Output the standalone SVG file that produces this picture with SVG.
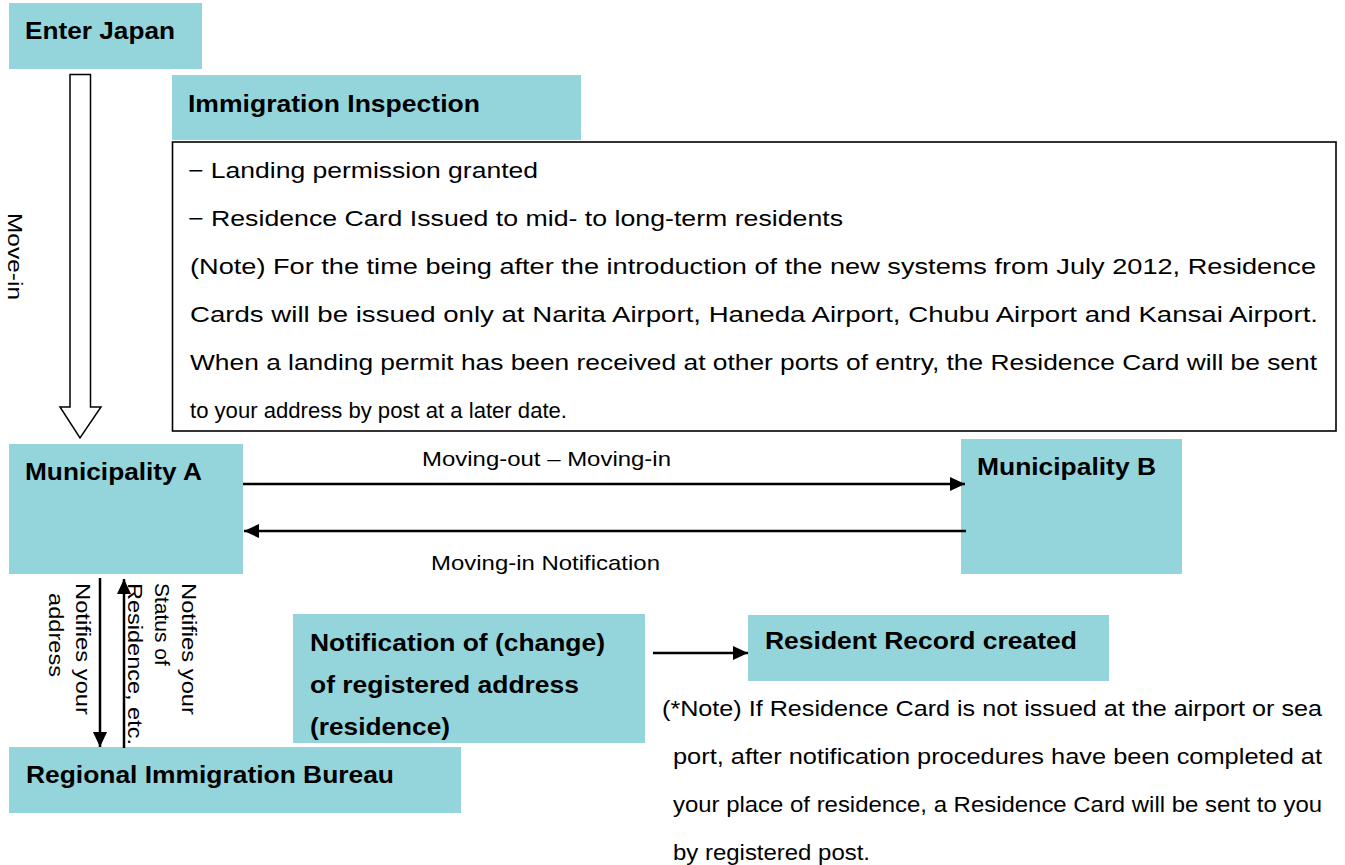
<svg xmlns="http://www.w3.org/2000/svg" width="1345" height="865" viewBox="0 0 1345 865">
<style>
.box{fill:#94D5DB;}
.h{font-family:"Liberation Sans",Arial,sans-serif;font-weight:bold;font-size:24px;fill:#000;}
.t{font-family:"Liberation Sans",Arial,sans-serif;font-size:22px;fill:#000;}
.v{font-family:"Liberation Sans",Arial,sans-serif;font-size:21px;fill:#000;}
.s{font-family:"Liberation Sans",Arial,sans-serif;font-size:21px;fill:#000;}
.n{font-family:"Liberation Sans Narrow","Liberation Sans",Arial,sans-serif;font-size:22px;fill:#000;}
.ln{stroke:#000;stroke-width:2.5;fill:none;}
</style>
<defs>
<marker id="ah" markerUnits="userSpaceOnUse" markerWidth="15" markerHeight="14" refX="15" refY="7" orient="auto">
<path d="M0,0 L15,7 L0,14 z" fill="#000"/>
</marker>
</defs>
<rect width="1345" height="865" fill="#fff"/>

<g id="enter-japan">
<rect class="box" x="9" y="3" width="193" height="66"/>
<text class="h" x="25" y="39" textLength="150" lengthAdjust="spacingAndGlyphs">Enter Japan</text>
</g>

<g id="immigration-inspection">
<rect class="box" x="172" y="75" width="409" height="65"/>
<text class="h" x="188" y="112" textLength="292" lengthAdjust="spacingAndGlyphs">Immigration Inspection</text>
</g>

<g id="inspection-details">
<rect x="172.5" y="142" width="1163.5" height="289" fill="#fff" stroke="#000" stroke-width="1.6"/>
<text class="t" x="188" y="178" textLength="350" lengthAdjust="spacingAndGlyphs">− Landing permission granted</text>
<text class="t" x="188" y="226" textLength="655" lengthAdjust="spacingAndGlyphs">− Residence Card Issued to mid- to long-term residents</text>
<text class="t" x="190" y="274" textLength="1126" lengthAdjust="spacingAndGlyphs">(Note) For the time being after the introduction of the new systems from July 2012, Residence</text>
<text class="t" x="190" y="322" textLength="1128" lengthAdjust="spacingAndGlyphs">Cards will be issued only at Narita Airport, Haneda Airport, Chubu Airport and Kansai Airport.</text>
<text class="t" x="190" y="370" textLength="1127" lengthAdjust="spacingAndGlyphs">When a landing permit has been received at other ports of entry, the Residence Card will be sent</text>
<text class="t" x="190" y="418" textLength="377" lengthAdjust="spacingAndGlyphs">to your address by post at a later date.</text>
</g>

<g id="municipality-a">
<rect class="box" x="9" y="444" width="234" height="130"/>
<text class="h" x="25" y="480" textLength="177" lengthAdjust="spacingAndGlyphs">Municipality A</text>
</g>

<g id="municipality-b">
<rect class="box" x="961" y="439" width="221" height="135"/>
<text class="h" x="977" y="475" textLength="179" lengthAdjust="spacingAndGlyphs">Municipality B</text>
</g>

<g id="notification">
<rect class="box" x="293" y="614" width="352" height="129"/>
<text class="h" x="310" y="651" textLength="295" lengthAdjust="spacingAndGlyphs">Notification of (change)</text>
<text class="h" x="310" y="693" textLength="269" lengthAdjust="spacingAndGlyphs">of registered address</text>
<text class="h" x="310" y="735" textLength="140" lengthAdjust="spacingAndGlyphs">(residence)</text>
</g>

<g id="resident-record">
<rect class="box" x="748" y="615" width="361" height="66"/>
<text class="h" x="765" y="649" textLength="312" lengthAdjust="spacingAndGlyphs">Resident Record created</text>
</g>

<g id="regional-bureau">
<rect class="box" x="9" y="747" width="452" height="66"/>
<text class="h" x="26" y="783" textLength="368" lengthAdjust="spacingAndGlyphs">Regional Immigration Bureau</text>
</g>

<g id="connectors">
<path d="M70,74.5 L90.5,74.5 L90.5,407 L101,407 L80,438 L60,407 L70,407 Z" fill="#fff" stroke="#000" stroke-width="1.5" stroke-linejoin="miter"/>
<text class="v" transform="translate(8,213) rotate(90)" textLength="87" lengthAdjust="spacingAndGlyphs">Move-in</text>

<line class="ln" x1="243" y1="484" x2="965" y2="484" marker-end="url(#ah)"/>
<text class="s" x="422" y="466" textLength="249" lengthAdjust="spacingAndGlyphs">Moving-out – Moving-in</text>
<line class="ln" x1="966" y1="531" x2="244" y2="531" marker-end="url(#ah)"/>
<text class="s" x="431" y="570" textLength="229" lengthAdjust="spacingAndGlyphs">Moving-in Notification</text>

<line class="ln" x1="100" y1="578" x2="100" y2="747" stroke-width="2" marker-end="url(#ah)"/>
<line class="ln" x1="124" y1="748" x2="124" y2="579" stroke-width="2" marker-end="url(#ah)"/>
<text class="v" transform="translate(76,583) rotate(90)" textLength="132" lengthAdjust="spacingAndGlyphs">Notifies your</text>
<text class="v" transform="translate(49,593) rotate(90)" textLength="84" lengthAdjust="spacingAndGlyphs">address</text>
<text class="v" transform="translate(182,583) rotate(90)" textLength="132" lengthAdjust="spacingAndGlyphs">Notifies your</text>
<text class="v" transform="translate(155,583) rotate(90)">Status of</text>
<text class="v" transform="translate(128,583) rotate(90)" textLength="162" lengthAdjust="spacingAndGlyphs">Residence, etc.</text>

<line class="ln" x1="653" y1="653" x2="748" y2="653" stroke-width="2" marker-end="url(#ah)"/>
</g>

<g id="note">
<text class="n" x="662" y="716" textLength="660" lengthAdjust="spacingAndGlyphs">(*Note) If Residence Card is not issued at the airport or sea</text>
<text class="n" x="673" y="764" textLength="649" lengthAdjust="spacingAndGlyphs">port, after notification procedures have been completed at</text>
<text class="n" x="673" y="812" textLength="649" lengthAdjust="spacingAndGlyphs">your place of residence, a Residence Card will be sent to you</text>
<text class="n" x="673" y="860" textLength="197" lengthAdjust="spacingAndGlyphs">by registered post.</text>
</g>
</svg>
